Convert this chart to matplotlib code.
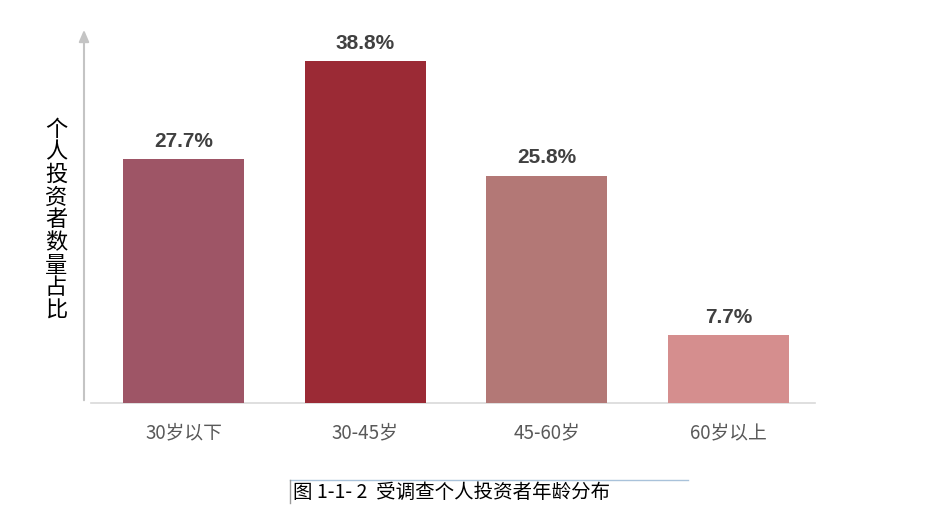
import matplotlib
matplotlib.use("Agg")
import matplotlib.pyplot as plt
from matplotlib.lines import Line2D

plt.rcParams['font.family'] = ['Noto Sans CJK SC', 'DejaVu Sans']

categories = ["30岁以下", "30-45岁", "45-60岁", "60岁以上"]
values = [27.7, 38.8, 25.8, 7.7]
colors = ["#9E5566", "#9B2A35", "#B37876", "#D58E8E"]
ylabel = "个人投资者数量占比"
caption = "图 1-1- 2  受调查个人投资者年龄分布"

W, H = 932, 530
fig = plt.figure(figsize=(W / 100, H / 100), dpi=100)

# axes in pixel coordinates
left_px, right_px = 84, 815
bottom_px, top_px = 403, 27
ax = fig.add_axes([left_px / W, 1 - bottom_px / H,
                   (right_px - left_px) / W, (bottom_px - top_px) / H])
px_per_unit = 181.67
ax.set_xlim(-(183.5 - left_px) / px_per_unit, (right_px - 183.5) / px_per_unit)
px_per_pct = 342 / 38.8
ax.set_ylim(0, (bottom_px - top_px) / px_per_pct)

x = list(range(len(categories)))
bars = ax.bar(x, values, width=0.666, color=colors, zorder=2)

for xi, v in zip(x, values):
    ax.annotate(f"{v}%", (xi, v), xytext=(0, 6), textcoords="offset points",
                ha="center", va="bottom", fontsize=15, fontweight="bold",
                color="#404040", family=["Liberation Sans", "DejaVu Sans"])

ax.set_xticks(x)
ax.set_xticklabels(categories, fontsize=13.5, color="#595959")
ax.tick_params(axis="x", length=0, pad=14)
ax.set_yticks([])
for s in ax.spines.values():
    s.set_visible(False)

# baseline
ax.plot([-0.51, ax.get_xlim()[1]], [0, 0], color="#d9d9d9", lw=1.2,
        zorder=1, clip_on=False)
# y-axis arrow
ax.annotate("", xy=(ax.get_xlim()[0], ax.get_ylim()[1]),
            xytext=(ax.get_xlim()[0], 0),
            arrowprops=dict(arrowstyle="-|>,head_length=0.7,head_width=0.3",
                            color="#c4c4c4", lw=1.5),
            annotation_clip=False)

# vertical stacked y label
fig.text(56 / W, 1 - 220 / H, "\n".join(ylabel), ha="center", va="center",
         fontsize=16, color="#000000", linespacing=0.98)

# caption with box lines
fig.add_artist(Line2D([290 / W, 688 / W], [1 - 480 / H, 1 - 480 / H],
                      color="#a9c2da", lw=1))
fig.add_artist(Line2D([290 / W, 290 / W], [1 - 480 / H, 1 - 503 / H],
                      color="#9a9a9a", lw=1))
fig.text(293 / W, 1 - 492 / H, caption, ha="left", va="center",
         fontsize=14, color="#000000")

fig.savefig("out.png", dpi=100)
